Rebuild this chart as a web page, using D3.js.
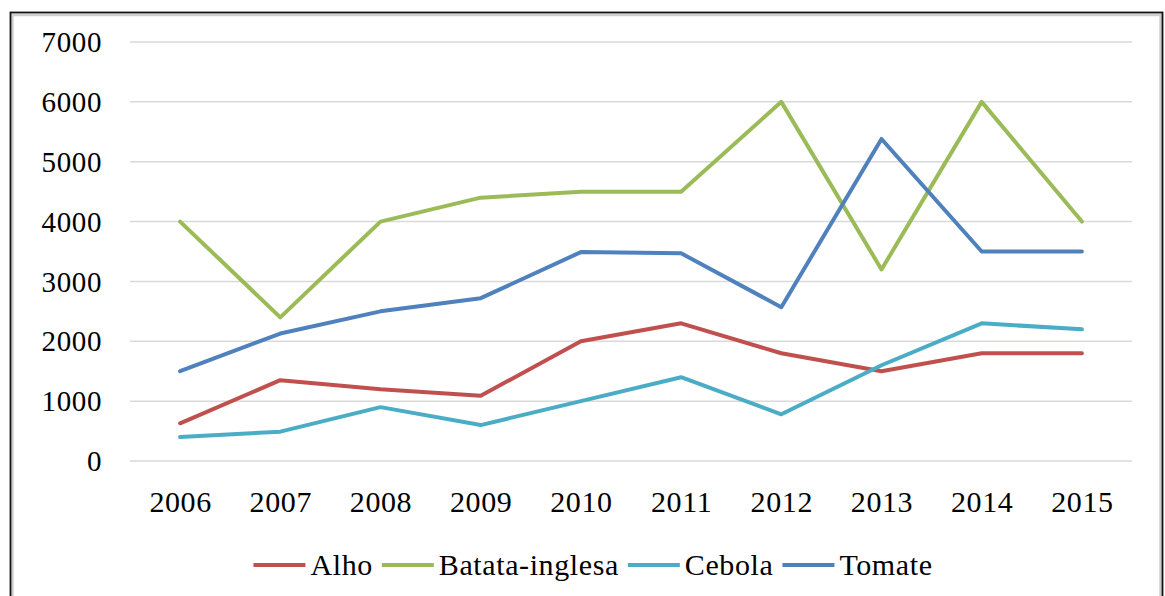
<!DOCTYPE html>
<html>
<head>
<meta charset="utf-8">
<script src="https://cdn.jsdelivr.net/npm/d3@7"></script>
<style>
  body { margin: 0; background: #fff; }
  text { font-family: "Liberation Serif", "Times New Roman", serif; fill: #000; letter-spacing: 0.6px; }
</style>
</head>
<body>
<svg id="chart" width="1165" height="596"></svg>
<script>
// data
var years = ["2006", "2007", "2008", "2009", "2010", "2011", "2012", "2013", "2014", "2015"];
var alho = [630, 1350, 1200, 1090, 2000, 2300, 1800, 1500, 1800, 1800];
var batata = [4000, 2400, 4000, 4400, 4500, 4500, 6000, 3200, 6000, 4000];
var cebola = [400, 490, 900, 600, 1000, 1400, 780, 1600, 2300, 2200];
var tomate = [1500, 2130, 2500, 2720, 3490, 3470, 2570, 5380, 3500, 3500];
var seriesNames = ["Alho", "Batata-inglesa", "Cebola", "Tomate"];
var yTicks = [0, 1000, 2000, 3000, 4000, 5000, 6000, 7000];

var colors = ["#C0504D", "#9BBB59", "#4BACC6", "#4F81BD"];
var series = [alho, batata, cebola, tomate].map(function(vals, i) {
  return { name: seriesNames[i], color: colors[i], values: vals };
});

var svg = d3.select("#chart");

// frame round the chart
svg.append("rect")
    .attr("x", 12.5).attr("y", 15)
    .attr("width", 1148).attr("height", 620)
    .attr("fill", "none")
    .attr("stroke", "#cfcfcf")
    .attr("stroke-width", 2.5);
svg.append("rect")
    .attr("x", 10.5).attr("y", 12.5)
    .attr("width", 1152).attr("height", 620)
    .attr("fill", "none")
    .attr("stroke", "#111")
    .attr("stroke-width", 1.8);

var x = d3.scalePoint()
          .domain(years)
          .range([130, 1132])
          .padding(0.5);

var y = d3.scaleLinear()
          .domain([0, 7000])
          .range([461, 42]);

// gridlines
svg.append("g")
    .selectAll("line")
    .data(yTicks)
  .enter().append("line")
    .attr("x1", 130).attr("x2", 1132)
    .attr("y1", d => y(d)).attr("y2", d => y(d))
    .attr("stroke", "#d9d9d9")
    .attr("stroke-width", 1.5);

// y axis labels
var yAxis = svg.append("g")
    .attr("transform", "translate(130,0)")
    .call(d3.axisLeft(y).tickValues(yTicks).tickSize(0).tickPadding(28).tickFormat(d3.format("d")));
yAxis.select(".domain").remove();
yAxis.selectAll("text")
    .attr("font-size", "29px")
    .attr("dy", "0.33em");

// x axis labels
var xAxis = svg.append("g")
    .attr("transform", "translate(0,461)")
    .call(d3.axisBottom(x).tickSize(0).tickPadding(30));
xAxis.select(".domain").remove();
xAxis.selectAll("text")
    .attr("font-size", "30px")
    .attr("dy", "0.71em");

var line = d3.line()
             .x((d, i) => x(years[i]))
             .y(d => y(d));

svg.append("g")
    .selectAll("path")
    .data(series)
  .enter().append("path")
    .attr("d", d => line(d.values))
    .attr("fill", "none")
    .attr("stroke", d => d.color)
    .attr("stroke-width", 4)
    .attr("stroke-linecap", "round")
    .attr("stroke-linejoin", "round");

// legend, centred under the chart
var legend = svg.append("g");
var lx = 0;
series.forEach(function(s) {
  var item = legend.append("g").attr("transform", "translate(" + lx + ",0)");
  item.append("line")
      .attr("x1", 0).attr("x2", 52)
      .attr("y1", 0).attr("y2", 0)
      .attr("stroke", s.color)
      .attr("stroke-width", 4);
  var t = item.append("text")
      .attr("x", 57)
      .attr("y", 10)
      .attr("font-size", "30px")
      .text(s.name);
  lx += 57 + t.node().getComputedTextLength() + 9;
});
var legendW = lx - 9;
legend.attr("transform", "translate(" + (593 - legendW / 2) + ",565)");
</script>
</body>
</html>
